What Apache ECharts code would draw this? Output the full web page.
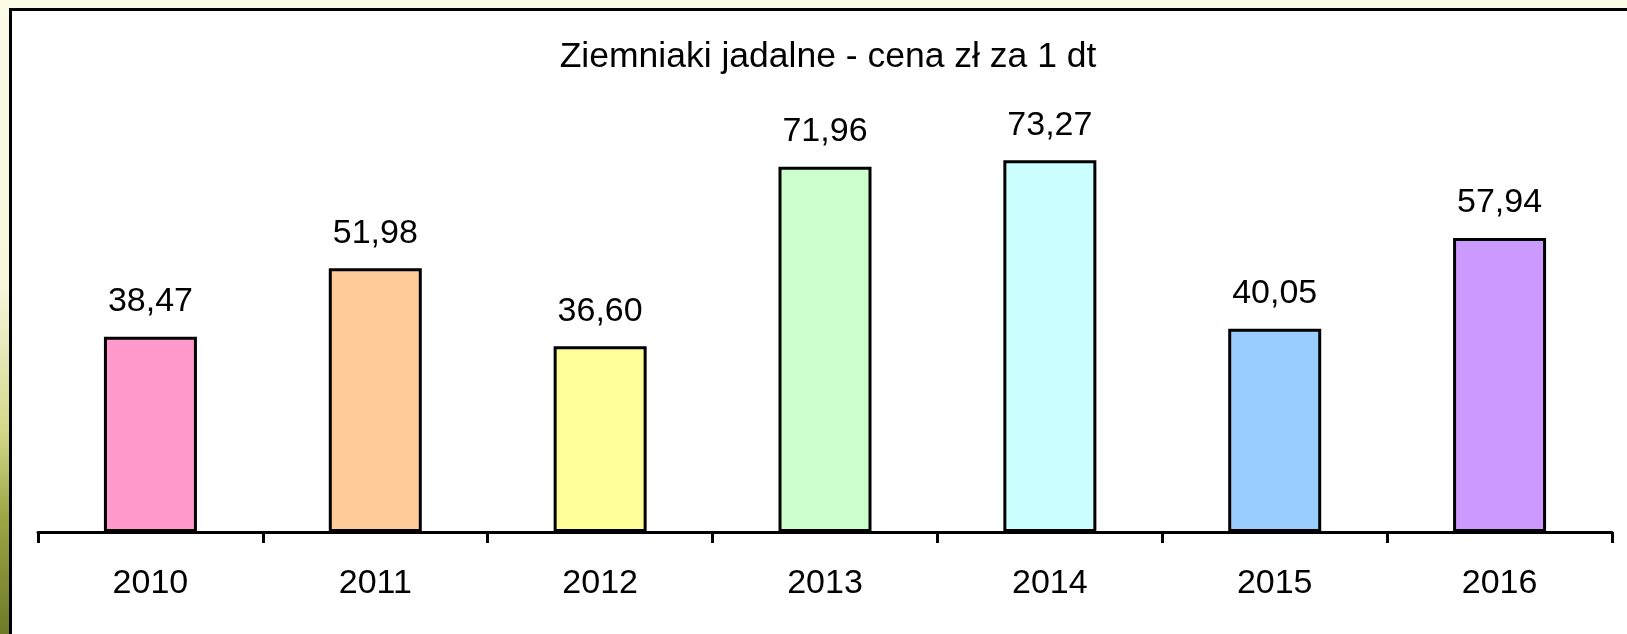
<!DOCTYPE html>
<html>
<head>
<meta charset="utf-8">
<script src="https://cdn.jsdelivr.net/npm/echarts@6/dist/echarts.min.js"></script>
<style>
  html, body { margin: 0; padding: 0; width: 1627px; height: 634px; overflow: hidden; }
  body { background: linear-gradient(to bottom, #fbfbe6 0%, #f6f7dc 45%, #d3d88a 68%, #9aa542 82%, #6f7a28 100%); position: relative; }
  #frame { position: absolute; left: 9px; top: 8px; width: 1700px; height: 700px; background: #ffffff; border-left: 3px solid #000; border-top: 3px solid #000; }
  #chart { position: absolute; left: 0; top: 0; width: 1627px; height: 634px; }
</style>
</head>
<body>
<div id="frame"></div>
<div id="chart"></div>
<script>
const categories = ['2010', '2011', '2012', '2013', '2014', '2015', '2016'];
const values = [38.47, 51.98, 36.60, 71.96, 73.27, 40.05, 57.94];
const barColors = ['#FF99CC', '#FFCC99', '#FFFF99', '#CCFFCC', '#CCFFFF', '#99CCFF', '#CC99FF'];
const titleText = 'Ziemniaki jadalne - cena zł za 1 dt';

const chart = echarts.init(document.getElementById('chart'), null, { renderer: 'canvas' });
const font = '"Liberation Sans", Arial, sans-serif';
chart.setOption({
  backgroundColor: 'transparent',
  animation: false,
  title: {
    text: titleText,
    left: 823,
    top: 34,
    textAlign: 'center',
    textStyle: { fontFamily: font, fontSize: 35.5, fontWeight: 'normal', color: '#000' }
  },
  grid: { left: 38, right: 15, top: 126, bottom: 102 },
  xAxis: {
    type: 'category',
    data: categories,
    boundaryGap: true,
    axisLine: { lineStyle: { color: '#000', width: 3 } },
    axisTick: { show: true, length: 11, lineStyle: { color: '#000', width: 3 } },
    axisLabel: { color: '#000', fontFamily: font, fontSize: 34, margin: 35 }
  },
  yAxis: {
    type: 'value',
    min: 0,
    max: 80,
    show: false,
    splitLine: { show: false }
  },
  series: [{
    type: 'bar',
    barWidth: 93,
    data: values.map((v, i) => ({
      value: v,
      itemStyle: { color: barColors[i], borderColor: '#000', borderWidth: 3 }
    })),
    label: {
      show: true,
      position: 'top',
      distance: 18,
      color: '#000',
      fontFamily: font,
      fontSize: 34,
      formatter: p => p.value.toFixed(2).replace('.', ',')
    }
  }]
});
</script>
</body>
</html>
